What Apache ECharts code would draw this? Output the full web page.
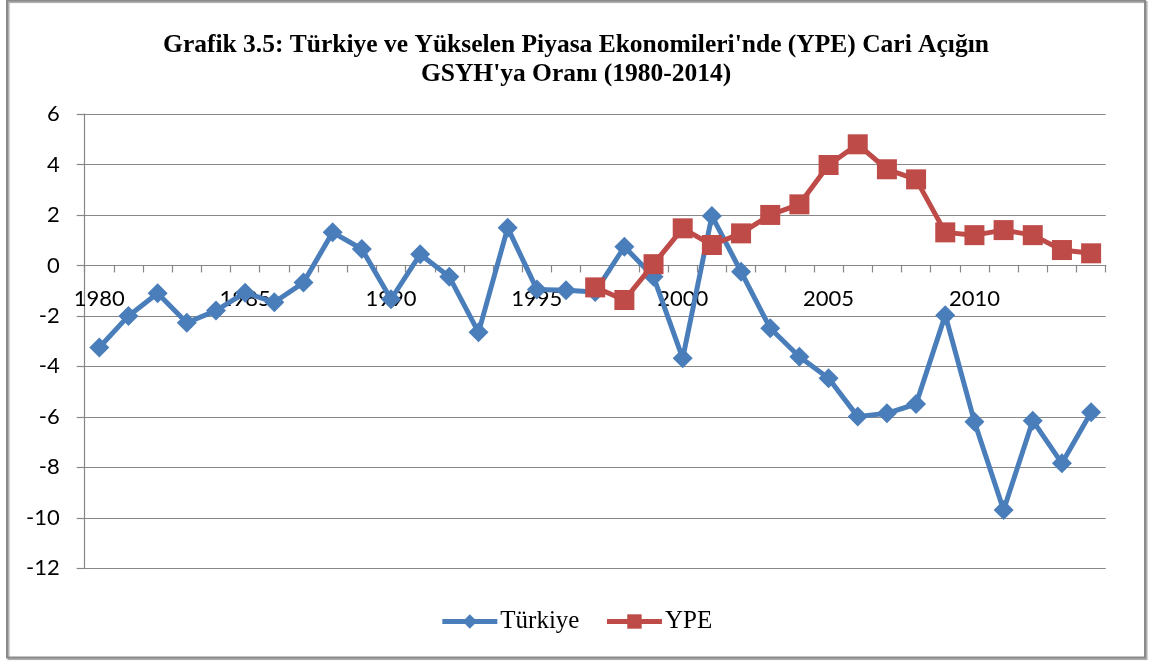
<!DOCTYPE html>
<html>
<head>
<meta charset="utf-8">
<script src="https://cdn.jsdelivr.net/npm/echarts@6/dist/echarts.min.js"></script>
<style>
  html, body { margin: 0; padding: 0; background: #fff; }
  #chart { width: 1152px; height: 661px; }
</style>
</head>
<body>
<div id="chart"></div>
<script>
const years = ['1980','1981','1982','1983','1984','1985','1986','1987','1988','1989',
  '1990','1991','1992','1993','1994','1995','1996','1997','1998','1999',
  '2000','2001','2002','2003','2004','2005','2006','2007','2008','2009',
  '2010','2011','2012','2013','2014'];
const turkiye = [-3.25, -2.0, -1.1, -2.27, -1.79, -1.08, -1.46, -0.68, 1.31, 0.65,
  -1.34, 0.44, -0.45, -2.65, 1.49, -0.95, -0.98, -1.05, 0.74, -0.45,
  -3.68, 1.96, -0.25, -2.49, -3.62, -4.47, -5.99, -5.86, -5.49, -1.97,
  -6.19, -9.69, -6.15, -7.84, -5.82];
const ype = [null, null, null, null, null, null, null, null, null, null,
  null, null, null, null, null, null, null, -0.87, -1.37, 0.05,
  1.47, 0.81, 1.27, 2.0, 2.42, 3.98, 4.80, 3.81, 3.41, 1.31,
  1.20, 1.40, 1.20, 0.61, 0.48];
const yTicks = { min: -12, max: 6, interval: 2 };
const titleLine1 = "Grafik 3.5: Türkiye ve Yükselen Piyasa Ekonomileri'nde (YPE) Cari Açığın";
const titleLine2 = "GSYH'ya Oranı (1980-2014)";
const seriesNames = ['Türkiye', 'YPE'];

const gridColor = '#878787';
const gridTop = 114, gridBottom = 92.7;
const plotH = 661 - gridTop - gridBottom;
// x axis crosses the value axis at zero
const zeroOffset = -plotH * (0 - yTicks.min) / (yTicks.max - yTicks.min);

const titleStyle = {
  fontFamily: 'Liberation Serif',
  fontWeight: 'bold',
  fontSize: 25.5,
  color: '#000'
};

const chart = echarts.init(document.getElementById('chart'), null, { renderer: 'canvas' });
chart.setOption({
  backgroundColor: '#ffffff',
  animation: false,
  graphic: [{
    type: 'rect',
    shape: { x: 7, y: 0.5, width: 1138, height: 657 },
    style: { fill: 'none', stroke: '#8a8a8a', lineWidth: 2,
      shadowColor: 'rgba(0,0,0,0.35)', shadowOffsetX: 1.5, shadowOffsetY: 1.5, shadowBlur: 1 },
    silent: true, z: -1
  }],
  title: [
    { text: titleLine1, left: 'center', top: 27, textStyle: titleStyle },
    { text: titleLine2, left: 'center', top: 56, textStyle: titleStyle }
  ],
  legend: {
    data: seriesNames,
    bottom: 22,
    left: 'center',
    itemWidth: 55,
    itemHeight: 18,
    itemGap: 25,
    lineStyle: { width: 5 },
    textStyle: { fontFamily: 'Liberation Serif', fontSize: 25, color: '#000', padding: [0, 0, 0, -2] }
  },
  grid: { left: 84.7, right: 46.3, top: gridTop, bottom: gridBottom, containLabel: false },
  xAxis: {
    type: 'category',
    data: years,
    boundaryGap: true,
    position: 'bottom',
    offset: zeroOffset,
    axisLine: { onZero: false, lineStyle: { color: gridColor, width: 1.2 } },
    axisTick: { show: true, interval: 0, length: 7, lineStyle: { color: gridColor, width: 1.2 } },
    axisLabel: { interval: 4, margin: 22, fontFamily: 'Lato', fontSize: 22, color: '#000' },
    splitLine: { show: false }
  },
  yAxis: {
    type: 'value',
    min: yTicks.min,
    max: yTicks.max,
    interval: yTicks.interval,
    axisLine: { show: true, lineStyle: { color: gridColor, width: 1.2 } },
    axisTick: { show: true, length: 8, lineStyle: { color: gridColor, width: 1.2 } },
    axisLabel: { margin: 25, fontFamily: 'Lato', fontSize: 22, color: '#000' },
    splitLine: { show: true, lineStyle: { color: gridColor, width: 1.2 } }
  },
  series: [
    {
      name: seriesNames[0],
      type: 'line',
      data: turkiye,
      symbol: 'diamond',
      symbolSize: 20,
      showAllSymbol: true,
      lineStyle: { color: '#4A7EBB', width: 5 },
      itemStyle: { color: '#4A7EBB' },
      z: 2
    },
    {
      name: seriesNames[1],
      type: 'line',
      data: ype,
      connectNulls: false,
      symbol: 'rect',
      symbolSize: 20,
      showAllSymbol: true,
      lineStyle: { color: '#BE4B48', width: 5 },
      itemStyle: { color: '#BE4B48' },
      z: 3
    }
  ]
});
</script>
</body>
</html>
